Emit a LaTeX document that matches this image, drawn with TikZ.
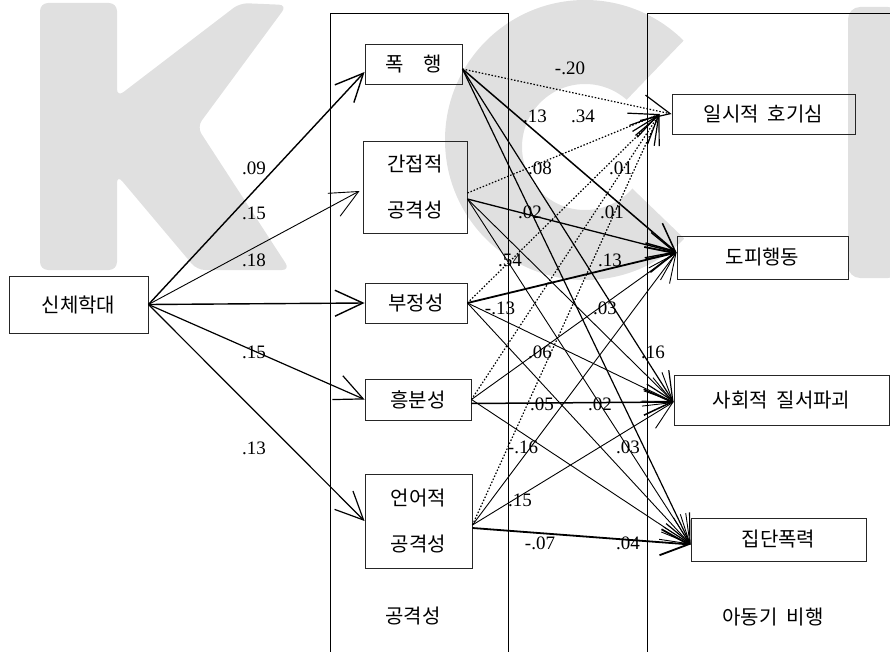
\documentclass[tikz,border=0pt]{standalone}
\usepackage{fontspec}
\setmainfont{Liberation Serif}
\newfontfamily\kr{Noto Sans CJK KR}[WordSpace=2]
\usepackage{tikz}
\usetikzlibrary{arrows.meta, positioning, calc}
\definecolor{wmark}{gray}{0.88}

\begin{document}
\begin{tikzpicture}[x=1pt, y=-1pt,
  every node/.style={font=\kr\fontsize{20}{46}\selectfont},
  bx/.style={rectangle, draw=black!85, line width=0.9pt, align=center, inner sep=0pt},
  lab/.style={font=\fontsize{19}{22}\selectfont, inner sep=0pt},
  arr/.style={-{Straight Barb[length=28pt, width=26pt]}, line width=#1},
  arr/.default=0.9pt,
  dotarr/.style={arr=1.2pt, dash pattern=on 1.5pt off 1.8pt}
]
  \useasboundingbox (0,0) rectangle (890,652);

  % watermark
  \fill[wmark, rounded corners=8pt] (40,3) -- (117,3) -- (117,97) -- (240,3) -- (287,5) -- (197,127)
    -- (290,270) -- (197,270) -- (117,175) -- (117,270) -- (40,270) -- cycle;
  \begin{scope}
    \clip (585,143) -- (801,351) -- (585,500) -- (200,500) -- (200,-200) -- (585,-200) -- (793,-73) -- cycle;
    \fill[wmark, even odd rule] (585,140) circle[radius=140] (585,147) circle[radius=63];
  \end{scope}
  \fill[wmark, rounded corners=12pt] (848,7) rectangle (900,278);

  % frames
  \draw[line width=1pt] (330,652) -- (330,14) -- (508,14) -- (508,652);
  \draw[line width=1pt] (647,652) -- (647,14) -- (890,14);

  \node[bx, minimum width=139pt, minimum height=57pt] (abuse) at (78.5,304.5) {신체학대};

  \node[bx, minimum width=97pt, minimum height=40pt] (assault) at (413.5,64) {폭\quad 행};
  \node[bx, minimum width=104pt, minimum height=92pt] (indirect) at (415,187) {간접적\\공격성};
  \node[bx, minimum width=102pt, minimum height=40pt] (negat) at (416,303) {부정성};
  \node[bx, minimum width=106pt, minimum height=41pt] (excit) at (418,399.5) {흥분성};
  \node[bx, minimum width=107pt, minimum height=94pt] (verbal) at (418.5,521) {언어적\\공격성};

  \node[bx, minimum width=183pt, minimum height=40pt] (curio) at (763.5,114) {일시적 호기심};
  \node[bx, minimum width=171pt, minimum height=43pt] (escape) at (762.5,257.5) {도피행동};
  \node[bx, minimum width=215pt, minimum height=50pt] (disorder) at (781.5,400) {사회적 질서파괴};
  \node[bx, minimum width=175pt, minimum height=43pt] (gang) at (778.5,539.5) {집단폭력};

  \node (aggr) at (413,616) {공격성};
  \node (delinq) at (773,617) {아동기 비행};

  % abuse -> aggression
  \draw[arr=1.4pt] (abuse.east) -- ([yshift=-8pt]assault.west);
  \draw[arr] (abuse.east) -- ([xshift=-3pt, yshift=-4pt]indirect.west);
  \draw[arr=1.4pt] (abuse.east) -- (negat.west);
  \draw[arr=1.2pt] (abuse.east) -- (excit.west);
  \draw[arr=1.2pt] (abuse.east) -- (verbal.west);

  % aggression -> delinquency
  \draw[dotarr] ([yshift=-5pt]assault.east) -- (curio.west);
  \draw[dotarr] ([yshift=-6pt]indirect.east) -- ([xshift=-12pt]curio.west);
  \draw[dotarr] (negat.east) -- ([xshift=-12pt]curio.west);
  \draw[dotarr] (excit.east) -- ([xshift=-12pt]curio.west);
  \draw[dotarr] ([yshift=-4pt]verbal.east) -- ([xshift=-12pt]curio.west);

  \draw[arr=1.5pt] ([yshift=-5pt]assault.east) -- ([yshift=5pt]escape.west);
  \draw[arr=1.3pt] ([yshift=-12pt]indirect.east) -- ([yshift=5pt]escape.west);
  \draw[arr=1.8pt] (negat.east) -- ([yshift=5pt]escape.west);
  \draw[arr] (excit.east) -- ([yshift=5pt]escape.west);
  \draw[arr] ([yshift=-4pt]verbal.east) -- ([yshift=5pt]escape.west);

  \draw[arr=1.2pt] ([yshift=-5pt]assault.east) -- ([yshift=-2pt]disorder.west);
  \draw[arr] ([yshift=-12pt]indirect.east) -- ([yshift=-2pt]disorder.west);
  \draw[arr] (negat.east) -- ([yshift=-2pt]disorder.west);
  \draw[arr=1.5pt] ([yshift=-4pt]excit.east) -- ([yshift=-2pt]disorder.west);
  \draw[arr] ([yshift=-4pt]verbal.east) -- ([yshift=-2pt]disorder.west);

  \draw[arr=1.2pt] ([yshift=-5pt]assault.east) -- ([yshift=-5pt]gang.west);
  \draw[arr] ([yshift=-12pt]indirect.east) -- ([yshift=-5pt]gang.west);
  \draw[arr] (negat.east) -- ([yshift=-5pt]gang.west);
  \draw[arr] (excit.east) -- ([yshift=-5pt]gang.west);
  \draw[arr=1.8pt] ([yshift=-7pt]verbal.east) -- ([yshift=-5pt]gang.west);

  % coefficients
  \foreach \v/\x/\y [count=\i] in {.09/254/168, .15/254/213, .18/254/260, .15/254/352, .13/254/448}
    \node[lab] (pa\i) at (\x,\y) {\v};
  \foreach \v/\x/\y [count=\i] in {-.20/570/68, .13/535/116, .34/583/116, .08/540/168, .01/621/168,
      .02/530/212, .01/612/212, .54/510/260, .13/610/260, -.13/500/308, .03/605/308,
      .06/540/352, .16/653/352, .05/542/404, .02/600/404, -.16/523/447, .03/628/447,
      .15/520/500, -.07/540/543, .04/628/543}
    \node[lab] (pb\i) at (\x,\y) {\v};
\end{tikzpicture}
\end{document}
